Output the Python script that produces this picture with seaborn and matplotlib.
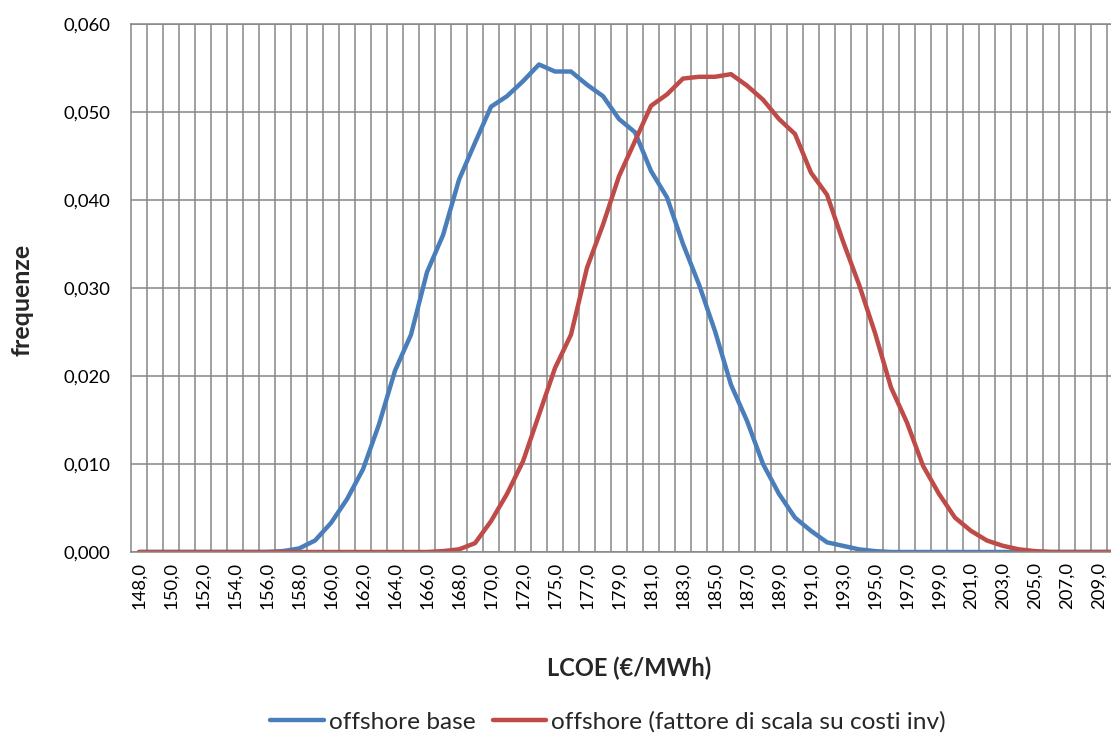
import numpy as np
import pandas as pd
import matplotlib
matplotlib.use("Agg")
import matplotlib.pyplot as plt
from matplotlib.ticker import FuncFormatter, FixedLocator
import seaborn as sns

# LCOE class labels (every other class is labelled on the axis)
lcoe_labels = ["148,0", "150,0", "152,0", "154,0", "156,0", "158,0", "160,0",
               "162,0", "164,0", "166,0", "168,0", "170,0", "172,0", "175,0",
               "177,0", "179,0", "181,0", "183,0", "185,0", "187,0", "189,0",
               "191,0", "193,0", "195,0", "197,0", "199,0", "201,0", "203,0",
               "205,0", "207,0", "209,0"]

# relative frequencies per LCOE class (62 classes)
freq_base = [0, 0, 0, 0, 0, 0, 0, 0, 0, 0.0001,
             0.0004, 0.0013, 0.0033, 0.0060, 0.0094, 0.0145, 0.0206, 0.0247, 0.0318, 0.0360,
             0.0423, 0.0465, 0.0506, 0.0518, 0.0535, 0.0554, 0.0546, 0.0546, 0.0531, 0.0518,
             0.0492, 0.0477, 0.0433, 0.0403, 0.0350, 0.0304, 0.0251, 0.0190, 0.0149, 0.0100,
             0.0066, 0.0039, 0.0024, 0.0011, 0.0007, 0.0003, 0.0001, 0, 0, 0,
             0, 0, 0, 0, 0, 0, 0, 0, 0, 0,
             0, 0]
freq_scaled = [0, 0, 0, 0, 0, 0, 0, 0, 0, 0,
               0, 0, 0, 0, 0, 0, 0, 0, 0, 0.0001,
               0.0003, 0.0010, 0.0035, 0.0066, 0.0103, 0.0156, 0.0209, 0.0247, 0.0323, 0.0372,
               0.0427, 0.0467, 0.0507, 0.0520, 0.0538, 0.0540, 0.0540, 0.0543, 0.0530, 0.0514,
               0.0492, 0.0475, 0.0431, 0.0406, 0.0353, 0.0304, 0.0249, 0.0187, 0.0147, 0.0098,
               0.0066, 0.0039, 0.0024, 0.0013, 0.0007, 0.0003, 0.0001, 0, 0, 0,
               0, 0]

series_names = ["offshore base", "offshore (fattore di scala su costi inv)"]
series_colors = ["#4A7EBB", "#BE4B48"]

n = len(freq_base)
df = pd.DataFrame({
    "classe": list(range(n)) * 2,
    "frequenza": freq_base + freq_scaled,
    "serie": [series_names[0]] * n + [series_names[1]] * n,
})

sns.set_theme(style="white")
plt.rcParams["font.family"] = ["Lato", "DejaVu Sans"]

W, H = 1111, 735
fig = plt.figure(figsize=(W / 100, H / 100), dpi=100)
ax = fig.add_axes([131 / W, (H - 552) / H, (W - 131) / W, (552 - 24) / H])

sns.lineplot(data=df, x="classe", y="frequenza", hue="serie",
             palette=dict(zip(series_names, series_colors)),
             linewidth=3.2, ax=ax, legend=False,
             solid_joinstyle="round", solid_capstyle="round")

grid_col = "#868686"
ax.set_xlim(-0.5, 60.75)
ax.set_ylim(0, 0.06)
ax.set_yticks(np.arange(0, 0.0601, 0.01))
ax.yaxis.set_major_formatter(FuncFormatter(lambda v, p: f"{v:.3f}".replace(".", ",")))
ax.set_xticks(np.arange(0, 2 * len(lcoe_labels), 2))
ax.set_xticklabels(lcoe_labels, rotation=90)
ax.xaxis.set_minor_locator(FixedLocator(np.arange(0.5, 61, 1)))

ax.grid(True, axis="y", which="major", color=grid_col, linewidth=1.1)
ax.grid(True, axis="x", which="minor", color=grid_col, linewidth=1.1)
ax.grid(False, axis="x", which="major")
ax.set_axisbelow(True)

ax.spines["right"].set_visible(False)
for side in ["left", "bottom", "top"]:
    ax.spines[side].set_color(grid_col)
    ax.spines[side].set_linewidth(1.1)

ax.tick_params(axis="both", which="both", length=0, labelsize=13.3, colors="black")
ax.tick_params(axis="y", pad=15)
ax.tick_params(axis="x", pad=7)
ax.set_xlabel("")
ax.set_ylabel("")

fig.text(629 / W, 1 - 668 / H, "LCOE (€/MWh)", ha="center", va="center",
         fontsize=17, fontweight="bold")
fig.text(22 / W, 1 - 300 / H, "frequenze", ha="center", va="center",
         rotation=90, fontsize=18, fontweight="bold")

handles = [plt.Line2D([], [], color=c, linewidth=3.2, solid_capstyle="round")
           for c in series_colors]
fig.legend(handles, series_names, loc="center", bbox_to_anchor=(608 / W, 1 - 722 / H),
           ncol=2, frameon=False, fontsize=17.6, handlelength=2.2,
           handletextpad=0.2, columnspacing=0.7, borderaxespad=0, borderpad=0)

fig.savefig("out.png", dpi=100, facecolor="white")
